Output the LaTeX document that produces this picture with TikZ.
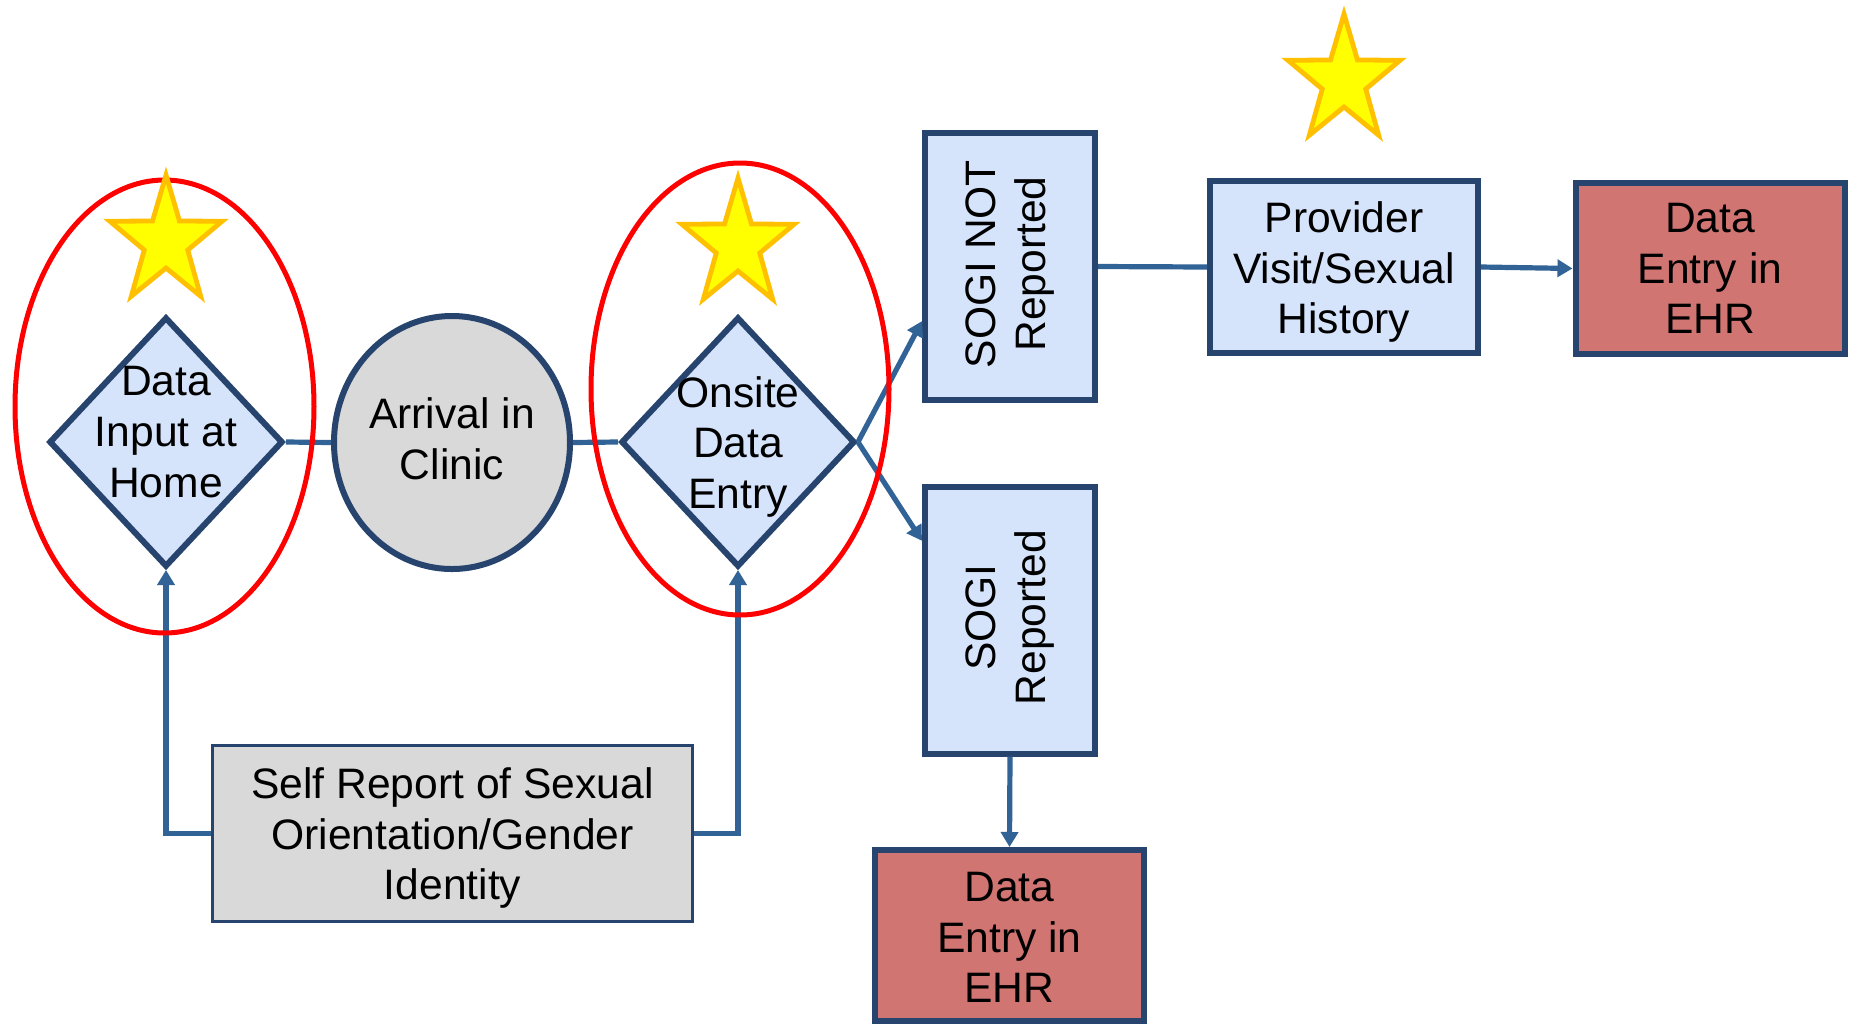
\documentclass[tikz,border=0pt]{standalone}
\usepackage{fontspec}
\setmainfont{Liberation Sans}
\usetikzlibrary{shapes.geometric, arrows.meta, calc}

\definecolor{edgeblue}{RGB}{38,68,110}
\definecolor{linkblue}{RGB}{50,99,150}
\definecolor{paleblue}{RGB}{213,228,251}
\definecolor{softgray}{RGB}{217,217,217}
\definecolor{ehrred}{RGB}{208,117,114}
\definecolor{starfill}{RGB}{255,255,0}
\definecolor{staredge}{RGB}{255,192,0}

% five-pointed star centred at (#1,#2)
\newcommand\drawstar[2]{%
  \begin{scope}[shift={(#1,#2)}, xscale=0.88]
    \draw[starshape] (-90:67) -- (-54:26) -- (-18:67) -- (18:26) -- (54:67)
      -- (90:26) -- (126:67) -- (162:26) -- (198:67) -- (234:26) -- cycle;
  \end{scope}}

\begin{document}
\begin{tikzpicture}[x=0.5pt, y=-0.5pt,
  every node/.style={font=\fontsize{21.3}{25.3}\selectfont, align=center, inner sep=0pt},
  shapebase/.style={draw=edgeblue, line width=3pt},
  decision/.style={shapebase, diamond, fill=paleblue, minimum width=117pt, minimum height=125pt},
  arrival/.style={shapebase, ellipse, fill=softgray, minimum width=118pt, minimum height=126.5pt},
  tallbox/.style={shapebase, rectangle, fill=paleblue, minimum width=85pt, minimum height=133.5pt},
  widebox/.style={shapebase, rectangle, fill=paleblue, minimum width=134pt, minimum height=86pt},
  ehrbox/.style={shapebase, rectangle, fill=ehrred, minimum width=134.5pt, minimum height=85.5pt},
  selfbox/.style={draw=edgeblue, line width=1.6pt, rectangle, fill=softgray, minimum width=240pt, minimum height=88pt},
  ring/.style={draw=red, line width=2.5pt, ellipse},
  link/.style={draw=linkblue, line width=2.6pt},
  flow/.style={link, -{Triangle[length=7.5pt, width=8.5pt]}},
  starshape/.style={fill=starfill, draw=staredge, line width=2.4pt, line join=miter}
]
\fill[white] (0,0) rectangle (1854,1024);
\useasboundingbox (0,0) rectangle (1854,1024);

% main flow shapes
\node[decision, label={[yshift=5pt]center:{Data\\Input at\\Home}}] (d1) at (166,442) {};
\node[arrival, label={[yshift=2pt]center:{Arrival in\\Clinic}}] (arr) at (452,442.5) {};
\node[decision, label={[yshift=-2.3pt]center:{Onsite\\Data\\Entry}}] (d2) at (738,442) {};

\node[tallbox, label={[rotate=90, xshift=1.2pt]center:{SOGI NOT\\Reported}}] (sn) at (1010,266.5) {};
\node[tallbox, label={[rotate=90, xshift=1.2pt]center:{SOGI\\Reported}}] (sr) at (1010,620) {};

\node[widebox, label={[yshift=-2.5pt]center:{Provider\\Visit/Sexual\\History}}] (prov) at (1344,267) {};
\node[ehrbox] (ehr1) at (1710,268.5) {Data\\Entry in\\EHR};
\node[selfbox, label={[yshift=-2.3pt]center:{Self Report of Sexual\\Orientation/Gender\\Identity}}] (self) at (452.5,833.5) {};
\node[ehrbox, label={[yshift=-1pt]center:{Data\\Entry in\\EHR}}] (ehr2) at (1009.5,935.5) {};

% connectors
\coordinate (snin) at ($(sn.south west)!0.3!(sn.north west)$);
\coordinate (srin) at ($(sr.north west)!0.21!(sr.south west)$);
\draw[link] (d1.east) -- (arr.west);
\draw[link] (arr.east) -- (d2.west);
\draw[flow] (d2.east) -- (snin);
\draw[flow] (d2.east) -- (srin);
\draw[link] (sn.east) -- (prov.west);
\draw[flow] (prov.east) -- (ehr1.west);
\draw[flow] (self.west) -| (d1.south);
\draw[flow] (self.east) -| (d2.south);
\draw[flow] (sr.south) -- (ehr2.north);

% highlight rings
\node[ring, minimum width=149.5pt, minimum height=226.5pt] (ring1) at (164.5,406.5) {};
\node[ring, minimum width=149pt, minimum height=226pt] (ring2) at (740,389) {};

% stars
\drawstar{166}{242}
\drawstar{738}{245}
\drawstar{1344}{81}
\end{tikzpicture}
\end{document}
